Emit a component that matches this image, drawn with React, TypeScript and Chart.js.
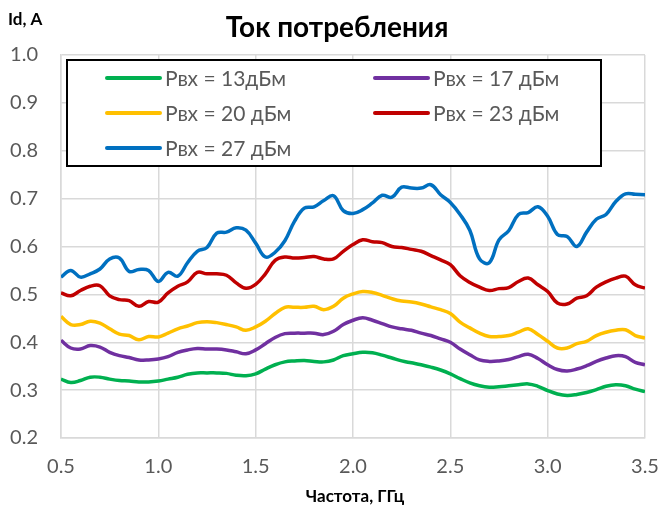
import { useEffect, useRef } from "react";
import { Chart, registerables } from "chart.js";

Chart.register(...registerables);

const FONT = "Lato, 'Open Sans', sans-serif";

const TITLE = "Ток потребления";
const Y_TITLE = "Id, A";
const X_TITLE = "Частота, ГГц";

const freq = [
  0.5, 0.55, 0.6, 0.65, 0.7, 0.75, 0.8, 0.85, 0.9, 0.95,
  1.0, 1.05, 1.1, 1.15, 1.2, 1.25, 1.3, 1.35, 1.4, 1.45,
  1.5, 1.55, 1.6, 1.65, 1.7, 1.75, 1.8, 1.85, 1.9, 1.95,
  2.0, 2.05, 2.1, 2.15, 2.2, 2.25, 2.3, 2.35, 2.4, 2.45,
  2.5, 2.55, 2.6, 2.65, 2.7, 2.75, 2.8, 2.85, 2.9, 2.95,
  3.0, 3.05, 3.1, 3.15, 3.2, 3.25, 3.3, 3.35, 3.4, 3.45, 3.5,
];

const labels = ["Рвх = 13дБм", "Рвх = 17 дБм", "Рвх = 20 дБм", "Рвх = 23 дБм", "Рвх = 27 дБм"];
const colors = ["#00B050", "#7030A0", "#FFC000", "#C00000", "#0070C0"];

const p13 = [
  0.323, 0.316, 0.320, 0.327, 0.327, 0.323, 0.320, 0.319, 0.317, 0.317, 0.319, 0.323, 0.327, 0.333, 0.336, 0.336,
  0.336, 0.335, 0.331, 0.330, 0.334, 0.344, 0.353, 0.359, 0.361, 0.362, 0.360, 0.359, 0.363, 0.372, 0.376,
  0.379, 0.378, 0.373, 0.367, 0.361, 0.357, 0.353, 0.348, 0.342, 0.334, 0.324, 0.315, 0.309, 0.306, 0.307, 0.309,
  0.311, 0.313, 0.308, 0.299, 0.292, 0.289, 0.291, 0.295, 0.301, 0.308, 0.311, 0.309, 0.302, 0.297,
];
const p17 = [
  0.404, 0.388, 0.386, 0.393, 0.390, 0.379, 0.372, 0.368, 0.363, 0.363, 0.365, 0.370, 0.379, 0.384, 0.387, 0.386,
  0.386, 0.384, 0.380, 0.376, 0.384, 0.397, 0.410, 0.418, 0.419, 0.419, 0.419, 0.416, 0.423, 0.437, 0.446,
  0.451, 0.446, 0.439, 0.432, 0.428, 0.425, 0.419, 0.414, 0.407, 0.400, 0.386, 0.374, 0.363, 0.360, 0.361, 0.364,
  0.370, 0.375, 0.366, 0.353, 0.343, 0.340, 0.344, 0.351, 0.360, 0.367, 0.372, 0.370, 0.358, 0.353,
];
const p20 = [
  0.454, 0.437, 0.437, 0.444, 0.440, 0.428, 0.417, 0.414, 0.405, 0.412, 0.411, 0.419, 0.428, 0.434, 0.441, 0.443,
  0.441, 0.437, 0.432, 0.425, 0.432, 0.444, 0.460, 0.473, 0.473, 0.473, 0.475, 0.468, 0.475, 0.492, 0.501,
  0.506, 0.504, 0.498, 0.491, 0.486, 0.484, 0.480, 0.474, 0.468, 0.460, 0.442, 0.430, 0.419, 0.412, 0.412, 0.414,
  0.421, 0.428, 0.416, 0.402, 0.388, 0.388, 0.397, 0.402, 0.414, 0.421, 0.425, 0.426, 0.414, 0.409,
];
const p23 = [
  0.503, 0.497, 0.508, 0.517, 0.518, 0.497, 0.489, 0.487, 0.475, 0.485, 0.484, 0.503, 0.517, 0.526, 0.546, 0.543,
  0.543, 0.540, 0.524, 0.513, 0.521, 0.543, 0.571, 0.578, 0.576, 0.577, 0.579, 0.574, 0.574, 0.590, 0.604,
  0.614, 0.610, 0.608, 0.600, 0.598, 0.594, 0.590, 0.581, 0.572, 0.562, 0.539, 0.525, 0.515, 0.508, 0.512, 0.514,
  0.527, 0.534, 0.520, 0.506, 0.482, 0.480, 0.492, 0.497, 0.515, 0.526, 0.534, 0.538, 0.520, 0.513,
];
const p27 = [
  0.536, 0.550, 0.536, 0.543, 0.553, 0.574, 0.576, 0.548, 0.552, 0.550, 0.527, 0.546, 0.538, 0.566, 0.590, 0.598,
  0.628, 0.630, 0.639, 0.634, 0.607, 0.578, 0.588, 0.612, 0.653, 0.680, 0.683, 0.696, 0.706, 0.675, 0.669,
  0.677, 0.691, 0.707, 0.703, 0.724, 0.722, 0.722, 0.729, 0.708, 0.692, 0.667, 0.634, 0.574, 0.566, 0.614, 0.633,
  0.667, 0.671, 0.683, 0.663, 0.625, 0.621, 0.600, 0.630, 0.657, 0.667, 0.694, 0.710, 0.709, 0.708,
];

const series = [p13, p17, p20, p23, p27];

const overlay = {
  id: "overlay",
  afterDraw(chart: any) {
    const ctx = chart.ctx as CanvasRenderingContext2D;
    const area = chart.chartArea;
    ctx.save();
    ctx.fillStyle = "#000";
    ctx.textBaseline = "middle";
    ctx.font = `bold 28px ${FONT}`;
    ctx.textAlign = "center";
    ctx.fillText(TITLE, 337, 28);
    ctx.font = `bold 17px ${FONT}`;
    ctx.textAlign = "left";
    ctx.fillText(Y_TITLE, 8, 20);
    ctx.textAlign = "center";
    ctx.fillText(X_TITLE, (area.left + area.right) / 2 + 2, 497);

    // legend box
    const bx = 67, by = 60, bw = 534, bh = 106;
    ctx.fillStyle = "#fff";
    ctx.fillRect(bx, by, bw, bh);
    ctx.strokeStyle = "#000";
    ctx.lineWidth = 2;
    ctx.strokeRect(bx, by, bw, bh);
    ctx.font = `21px ${FONT}`;
    ctx.textAlign = "left";
    const cols = [107, 375];
    const rows = [78, 113, 148];
    labels.forEach((lab, i) => {
      const cx = cols[i % 2];
      const cy = rows[Math.floor(i / 2)];
      ctx.strokeStyle = colors[i];
      ctx.lineWidth = 4;
      ctx.lineCap = "round";
      ctx.beginPath();
      ctx.moveTo(cx, cy);
      ctx.lineTo(cx + 53, cy);
      ctx.stroke();
      ctx.fillStyle = "#595959";
      ctx.fillText(lab, cx + 58, cy + 1);
    });
    ctx.restore();
  },
};

export default function App() {
  const ref = useRef<HTMLCanvasElement | null>(null);
  useEffect(() => {
    if (!ref.current) return;
    const chart = new Chart(ref.current, {
      type: "line",
      data: {
        labels: freq,
        datasets: series.map((s, i) => ({
          label: labels[i],
          data: s.map((v, j) => ({ x: freq[j], y: v })),
          borderColor: colors[i],
          backgroundColor: colors[i],
          borderWidth: 3.5,
          pointRadius: 0,
          tension: 0.4,
          fill: false,
        })),
      },
      options: {
        animation: false,
        responsive: false,
        maintainAspectRatio: false,
        layout: { padding: { left: 0, top: 55, right: 17, bottom: 0 } },
        plugins: {
          legend: { display: false },
          title: { display: false },
          tooltip: { enabled: false },
        },
        scales: {
          x: {
            type: "linear",
            min: 0.5,
            max: 3.5,
            ticks: {
              stepSize: 0.5,
              padding: 17,
              color: "#595959",
              font: { family: FONT, size: 20 },
              callback: (v: any) => Number(v).toFixed(1),
              maxRotation: 0,
            },
            grid: { color: "#d9d9d9", lineWidth: 1.5, drawTicks: false },
            border: { color: "#d9d9d9", width: 1.5 },
            afterFit: (s: any) => {
              s.height = 76;
              s.paddingLeft = 0;
              s.paddingRight = 0;
            },
          },
          y: {
            min: 0.2,
            max: 1.0,
            ticks: {
              stepSize: 0.1,
              padding: 23,
              color: "#595959",
              font: { family: FONT, size: 20 },
              callback: (v: any) => Number(v).toFixed(1),
            },
            grid: { color: "#d9d9d9", lineWidth: 1.5, drawTicks: false },
            border: { color: "#d9d9d9", width: 1.5 },
            afterFit: (s: any) => {
              s.width = 61;
              s.paddingTop = 0;
              s.paddingBottom = 0;
            },
          },
        },
      },
      plugins: [overlay],
    });
    return () => chart.destroy();
  }, []);
  return (
    <div style={{ position: "fixed", left: 0, top: 0, width: 662, height: 514, background: "#fff" }}>
      <canvas ref={ref} width={662} height={514} style={{ width: 662, height: 514 }} />
    </div>
  );
}
